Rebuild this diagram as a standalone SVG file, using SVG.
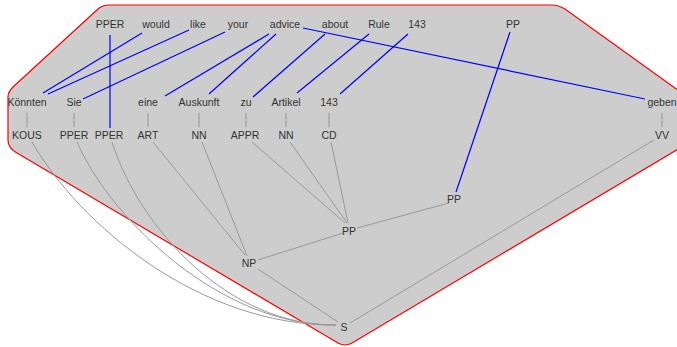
<svg xmlns="http://www.w3.org/2000/svg" width="677" height="347" viewBox="0 0 677 347">
<style>
text{font-family:"Liberation Sans",Arial,sans-serif;font-size:10.5px;fill:#333;text-anchor:middle}
.t{stroke:#999;stroke-width:1;fill:none}
.a{stroke:#0000ff;stroke-width:1.2;fill:none}
</style>
<g id="hull">
<path d="M110,5 L552,5 Q558,5 565,9 L700,106 L700,136 L352,343 Q345,347 338,343 L17,153 Q8,148 8,140 L8,97 Q8,92 13,87 L98,9 Q102,5 110,5 Z" fill="#cdcdcd" stroke="#ff0000" stroke-width="1.2"/>
</g>
<g id="connectors">
<line class="t" x1="27" y1="113" x2="27" y2="127"/>
<line class="t" x1="74" y1="113" x2="74" y2="127"/>
<line class="t" x1="148" y1="113" x2="148" y2="127"/>
<line class="t" x1="199" y1="113" x2="199" y2="127"/>
<line class="t" x1="246" y1="113" x2="246" y2="127"/>
<line class="t" x1="286" y1="113" x2="286" y2="127"/>
<line class="t" x1="329" y1="113" x2="329" y2="127"/>
<line class="t" x1="662" y1="113" x2="662" y2="127"/>
<line class="t" x1="153" y1="142" x2="245" y2="255"/>
<line class="t" x1="202" y1="142" x2="247" y2="256"/>
<line class="t" x1="252" y1="142" x2="345" y2="223"/>
<line class="t" x1="290" y1="142" x2="347" y2="223"/>
<line class="t" x1="331" y1="142" x2="348" y2="223"/>
<line class="t" x1="357" y1="228" x2="449" y2="203"/>
<line class="t" x1="258" y1="260" x2="343" y2="233"/>
<line class="t" x1="258" y1="269" x2="338" y2="322"/>
<line class="t" x1="654" y1="140" x2="350" y2="323"/>
<path class="t" d="M32,142 C80,225 200,326 336,325"/>
<path class="t" d="M77,142 C110,218 220,326 336,325"/>
<path class="t" d="M112,142 C140,230 230,326 336,325"/>
<line class="a" x1="142" y1="33" x2="43" y2="93"/>
<line class="a" x1="189" y1="30" x2="48" y2="94"/>
<line class="a" x1="225" y1="32" x2="83" y2="99"/>
<line class="a" x1="269" y1="34" x2="165" y2="96"/>
<line class="a" x1="276" y1="34" x2="209" y2="94"/>
<line class="a" x1="325" y1="34" x2="253" y2="97"/>
<line class="a" x1="369" y1="34" x2="297" y2="93"/>
<line class="a" x1="408" y1="34" x2="340" y2="94"/>
<line class="a" x1="303" y1="28" x2="645" y2="99"/>
<line class="a" x1="110" y1="35" x2="110" y2="128"/>
<line class="a" x1="510" y1="32" x2="456" y2="192"/>
</g>
<g id="en-PPER"><text x="110" y="28">PPER</text></g>
<g id="en-would"><text x="156" y="28">would</text></g>
<g id="en-like"><text x="198" y="28">like</text></g>
<g id="en-your"><text x="238" y="28">your</text></g>
<g id="en-advice"><text x="285" y="28">advice</text></g>
<g id="en-about"><text x="335" y="28">about</text></g>
<g id="en-Rule"><text x="379" y="28">Rule</text></g>
<g id="en-143"><text x="417" y="28">143</text></g>
<g id="en-PP"><text x="513" y="28">PP</text></g>
<g id="de-Koennten"><text x="27" y="106">Könnten</text></g>
<g id="de-Sie"><text x="74" y="106">Sie</text></g>
<g id="de-eine"><text x="148" y="106">eine</text></g>
<g id="de-Auskunft"><text x="199" y="106">Auskunft</text></g>
<g id="de-zu"><text x="246" y="106">zu</text></g>
<g id="de-Artikel"><text x="286" y="106">Artikel</text></g>
<g id="de-143"><text x="329" y="106">143</text></g>
<g id="de-geben"><text x="662" y="106">geben</text></g>
<g id="pos-KOUS"><text x="27" y="139">KOUS</text></g>
<g id="pos-PPER1"><text x="74" y="139">PPER</text></g>
<g id="pos-PPER2"><text x="109" y="139">PPER</text></g>
<g id="pos-ART"><text x="148" y="139">ART</text></g>
<g id="pos-NN1"><text x="199" y="139">NN</text></g>
<g id="pos-APPR"><text x="245" y="139">APPR</text></g>
<g id="pos-NN2"><text x="286" y="139">NN</text></g>
<g id="pos-CD"><text x="329" y="139">CD</text></g>
<g id="pos-VV"><text x="662" y="139">VV</text></g>
<g id="PP-right"><text x="454" y="203">PP</text></g>
<g id="PP-left"><text x="349" y="235">PP</text></g>
<g id="NP"><text x="249" y="267">NP</text></g>
<g id="S"><text x="344" y="331">S</text></g>
</svg>
